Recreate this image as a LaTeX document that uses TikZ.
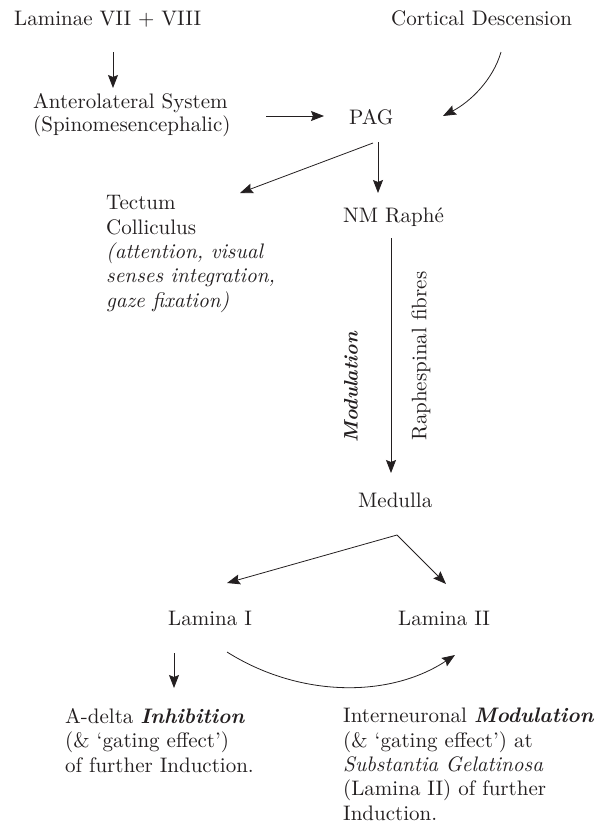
\documentclass[tikz,border=0pt]{standalone}
\usepackage{fontspec}
\setmainfont{lmroman10-regular.otf}[
  Ligatures=TeX,
  ItalicFont=lmroman10-italic.otf,
  BoldFont=lmroman10-bold.otf,
  BoldItalicFont=lmroman10-bolditalic.otf]
\usetikzlibrary{arrows.meta,calc}
\definecolor{ink}{HTML}{231F20}
\begin{document}
\begin{tikzpicture}[x=1pt,y=-1pt,
  lbl/.style={inner sep=0pt, anchor=base west, align=left,
              font=\fontsize{21}{24.3}\selectfont, text=ink},
  arr/.style={draw=ink, line width=0.8pt,
              -{Stealth[length=13pt,width=10pt,inset=2pt]}}]
\useasboundingbox (0,0) rectangle (604,825);

% labels (multi-line nodes are placed by the baseline of their last line)
\node[lbl] (lam78) at (14,25) {Laminae VII + VIII};
\node[lbl] (cort)  at (391,25) {Cortical Descension};
\node[lbl, font=\fontsize{21}{23}\selectfont] (als) at (33,131)
  {Anterolateral System\\(Spinomesencephalic)};
\node[lbl] (pag) at (349,124) {PAG};
\node[lbl] (tect) at (106,307)
  {Tectum\\Colliculus\\\textit{(attention, visual}\\\textit{senses integration,}\\\textit{gaze fixation)}};
\node[lbl] (nm) at (343,222) {NM Raphé};
\node[lbl] (med) at (358,507) {Medulla};
\node[lbl] (lamI) at (168,625) {Lamina I};
\node[lbl] (lamII) at (398,625) {Lamina II};
\node[lbl] (adelta) at (65,772)
  {A-delta \textbf{\textit{Inhibition}}\\(\& ‘gating effect’)\\of further Induction.};
\node[lbl] (inter) at (343,820)
  {Interneuronal \textbf{\textit{Modulation}}\\(\& ‘gating effect’) at\\\textit{Substantia Gelatinosa}\\(Lamina II) of further\\Induction.};

% rotated labels beside the descending fibres
\node[lbl, anchor=center, rotate=90, font=\fontsize{19.5}{22}\selectfont] (modl) at (351,387) {\textbf{\textit{Modulation}}};
\node[lbl, anchor=center, rotate=90] (rsf) at (421,356) {Raphespinal fibres};

% connectors
\draw[arr] ($(lam78.base west)+(99,27)$) -- ($(als.base west)+(80,-43)$);
\draw[arr] ($(als.base west)+(233,-15)$) -- ($(pag.base west)+(-25,-8)$);
\draw[arr] ($(cort.base west)+(110,27)$)
  .. controls ($(cort.base west)+(102,55)$) and ($(cort.base west)+(79,77)$)
  .. ($(pag.base west)+(94,-8)$);
\draw[arr] ($(pag.base west)+(29,18)$) -- ($(nm.base west)+(35,-29)$);
\draw[arr] ($(pag.base west)+(24,19)$) -- ($(tect.base west)+(134,-114)$);
\draw[arr] ($(nm.base west)+(48,16)$) -- ($(med.base west)+(33,-34)$);
\draw[arr] ($(med.base west)+(39,28)$) -- ($(lamI.base west)+(59,-42)$);
\draw[arr] ($(med.base west)+(39,28)$) -- ($(lamII.base west)+(48,-41)$);
\draw[arr] ($(lamI.base west)+(6,28)$) -- ($(adelta.base west)+(109,-84)$);
\draw[arr] ($(lamI.base west)+(59,27)$)
  .. controls ($(lamI.base west)+(132,73)$) and ($(lamII.base west)+(-8,73)$)
  .. ($(lamII.base west)+(57,30)$);
\end{tikzpicture}
\end{document}
